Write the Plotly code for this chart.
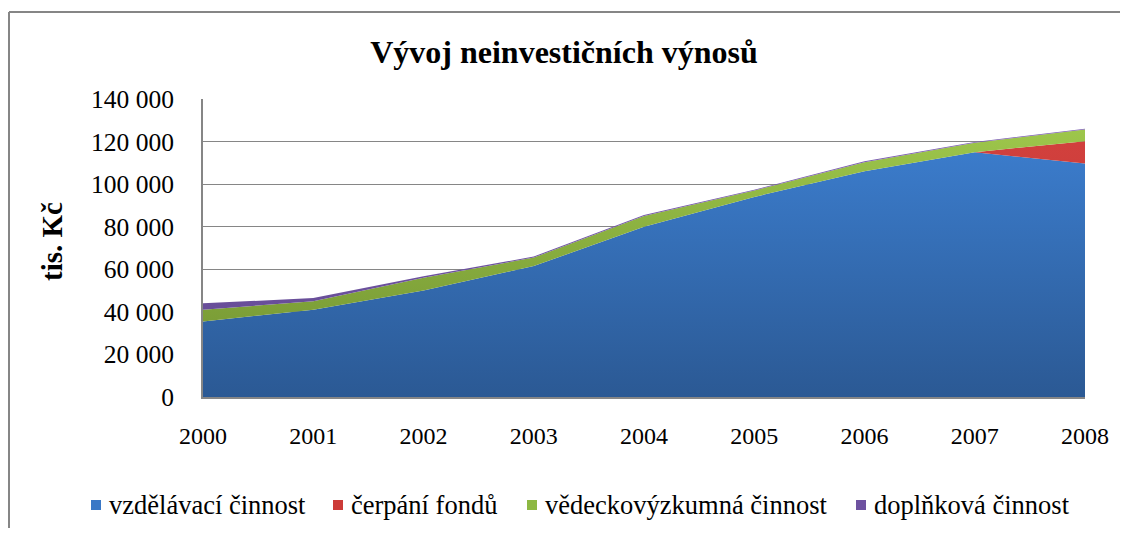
import plotly.graph_objects as go

years = [2000, 2001, 2002, 2003, 2004, 2005, 2006, 2007, 2008]
vzdelavaci = [35500, 41000, 50000, 61500, 80000, 94000, 106000, 115000, 109700]
cerpani = [0, 0, 0, 0, 0, 0, 0, 0, 10500]
vedecka = [5500, 4000, 6000, 4000, 5000, 3000, 4300, 4500, 5500]
doplnkova = [3000, 1500, 700, 500, 500, 400, 400, 300, 300]

y_ticks = [0, 20000, 40000, 60000, 80000, 100000, 120000, 140000]
y_labels = ["0", "20 000", "40 000", "60 000", "80 000", "100 000", "120 000", "140 000"]

FONT = "Liberation Serif"

series = [
    ("vzdělávací činnost", vzdelavaci, "#3A78C6", ["#2B5994", "#3D80D2"]),
    ("čerpání fondů", cerpani, "#CC3B38", ["#C43532", "#D2413E"]),
    ("vědeckovýzkumná činnost", vedecka, "#8DB843", ["#6E8E2F", "#9FC84C"]),
    ("doplňková činnost", doplnkova, "#6E52A0", ["#5E468C", "#7E5FB4"]),
]

fig = go.Figure()
for name, vals, color, grad in series:
    fig.add_trace(go.Scatter(
        x=years, y=vals, name=name, mode="lines", stackgroup="one",
        line=dict(width=0, color=color),
        fillcolor=color, showlegend=False,
        fillgradient=dict(type="vertical", start=0, stop=130000,
                          colorscale=[[0, grad[0]], [1, grad[1]]]),
    ))

fig.update_layout(
    width=1112, height=520,
    margin=dict(l=195, r=35, t=91, b=131, autoexpand=False),
    paper_bgcolor="white", plot_bgcolor="white",
    font=dict(family=FONT, size=25, color="black"),
    title=dict(text="<b>Vývoj neinvestičních výnosů</b>", x=0.5, xanchor="center",
               y=0.915, yanchor="middle", font=dict(family=FONT, size=32, color="black")),
    showlegend=False,
)
fig.update_xaxes(range=[2000, 2008], tickvals=years, ticktext=[str(y) for y in years],
                 showgrid=False, showline=True, linecolor="#868686", linewidth=2,
                 ticks="", ticklabelstandoff=16, tickfont=dict(family=FONT, size=24))
fig.update_yaxes(range=[0, 140000], tickvals=y_ticks, ticktext=y_labels,
                 showgrid=True, gridcolor="#868686", gridwidth=1,
                 showline=True, linecolor="#868686", linewidth=2,
                 ticks="", ticklabelstandoff=22, zeroline=False, tickfont=dict(family=FONT, size=25.5))


# page pixel -> paper coordinates (plot area spans x 203..1085, y 99..397 on the page)
def px_x(p):
    return (p - 203) / 882


def px_y(p):
    return (397 - p) / 298


# axis title as annotation so it sits where Excel put it
fig.add_annotation(xref="paper", yref="paper", x=px_x(52), y=px_y(242), text="<b>tis. Kč</b>",
                   textangle=-90, showarrow=False, xanchor="center", yanchor="middle",
                   font=dict(family=FONT, size=29, color="black"))

# legend drawn by hand: square key + label, in one row like the Excel legend
legend_keys = [91, 333, 527, 856]
for (name, vals, color, grad), kx in zip(series, legend_keys):
    fig.add_shape(type="rect", xref="paper", yref="paper",
                  x0=px_x(kx), x1=px_x(kx + 10), y0=px_y(500), y1=px_y(510),
                  line=dict(width=0), fillcolor=color)
    fig.add_annotation(xref="paper", yref="paper", x=px_x(kx + 16), y=px_y(505),
                       text=name, showarrow=False, xanchor="left", yanchor="middle",
                       font=dict(family=FONT, size=26.5, color="black"))

# chart frame (only top and left edges visible in the original crop)
fig.add_shape(type="line", xref="paper", yref="paper", x0=px_x(9), x1=1.05, y0=px_y(12), y1=px_y(12),
              line=dict(color="#868686", width=2))
fig.add_shape(type="line", xref="paper", yref="paper", x0=px_x(9), x1=px_x(9), y0=px_y(12), y1=-0.45,
              line=dict(color="#868686", width=2))

fig.write_html("out.html")
